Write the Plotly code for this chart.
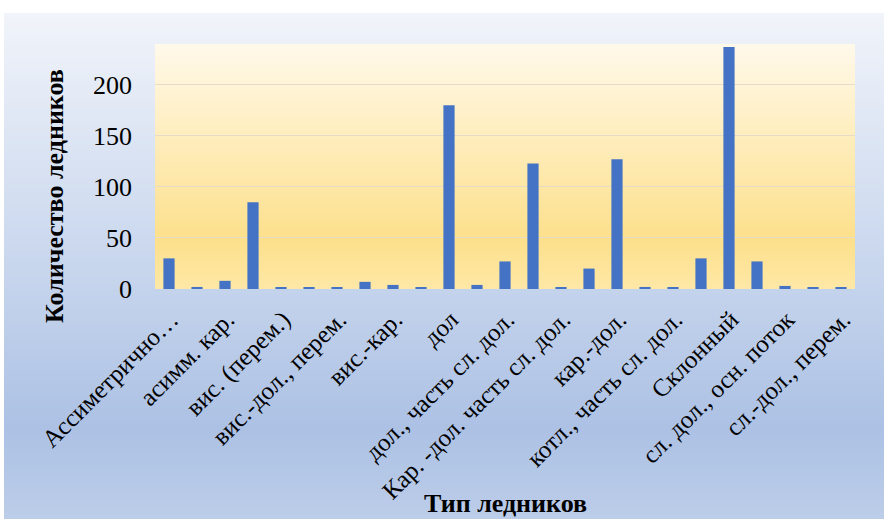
import plotly.graph_objects as go

# Glacier types (alphabetical, as exported) and number of glaciers of each type
categories = [
    "Ассиметрично…", "асимм. вис.", "асимм. кар.", "вис.", "вис. (перем.)",
    "вис.-дол.", "вис.-дол., перем.", "вис.-дол.-кар.", "вис.-кар.", "вис.-кар.-дол.",
    "дол", "дол.", "дол., часть сл. дол.", "кар.", "Кар. -дол. часть сл. дол.",
    "кар.-вис.", "кар.-дол.", "котл.", "котл., часть сл. дол.", "котл.-дол.",
    "Склонный", "сл. дол.", "сл. дол., осн. поток", "сл.-дол.", "сл.-дол., перем.",
]
counts = [
    30, 2, 8, 85, 1,
    1, 1, 7, 4, 1,
    180, 4, 27, 123, 1,
    20, 127, 2, 1, 30,
    237, 27, 3, 1, 1,
]
# every second category is labelled on the axis
tick_labels = categories[::2]

W, H = 884, 519
PL, PR, PT, PB = 155, 855, 44, 289  # plot area in pixels


def px_x(px):
    return (px - PL) / (PR - PL)


def px_y(py):
    return (PB - py) / (PB - PT)


def lerp_color(stops, t):
    for (t0, c0), (t1, c1) in zip(stops, stops[1:]):
        if t0 <= t <= t1:
            f = (t - t0) / (t1 - t0) if t1 > t0 else 0
            return "rgb({},{},{})".format(*[round(a + (b - a) * f) for a, b in zip(c0, c1)])
    return "rgb({},{},{})".format(*stops[-1][1])


def gradient_strips(x0, x1, y0, y1, stops, step=2):
    shapes = []
    py = y0
    while py < y1:
        t = (py + step / 2 - y0) / (y1 - y0)
        shapes.append(dict(
            type="rect", xref="paper", yref="paper", layer="below",
            x0=px_x(x0), x1=px_x(x1),
            y0=px_y(min(py + step + 0.6, y1)), y1=px_y(py),
            fillcolor=lerp_color(stops, min(t, 1)), line=dict(width=0),
        ))
        py += step
    return shapes


chart_bg = [(0.0, (241, 244, 250)), (0.55, (196, 211, 236)),
            (0.82, (172, 193, 228)), (1.0, (188, 205, 233))]
plot_bg = [(0.0, (255, 249, 234)), (0.8, (253, 224, 140)), (1.0, (254, 232, 166))]

shapes = gradient_strips(4, W, 13, H, chart_bg, step=3)
shapes += gradient_strips(PL, PR, PT, PB, plot_bg, step=2)

fig = go.Figure(go.Bar(
    x=categories, y=counts,
    marker=dict(color="#4472c4", line=dict(width=0)),
))

serif = "Liberation Serif"

fig.update_layout(
    width=W, height=H,
    margin=dict(l=PL, r=W - PR, t=PT, b=H - PB),
    paper_bgcolor="white",
    plot_bgcolor="rgba(0,0,0,0)",
    bargap=0.6,
    showlegend=False,
    shapes=shapes,
    font=dict(family=serif, color="black"),
    xaxis=dict(
        type="category",
        tickmode="array", tickvals=tick_labels, ticktext=tick_labels,
        tickangle=-45, tickfont=dict(size=25, family=serif, color="black"),
        showgrid=False, showline=False, ticks="",
        ticklabelstandoff=10, ticklabelshift=2,
    ),
    yaxis=dict(
        range=[0, 240], tickvals=[0, 50, 100, 150, 200],
        tickfont=dict(size=26, family=serif, color="black"),
        showgrid=True, gridcolor="#e5dcc8", gridwidth=1,
        zeroline=False, showline=False, ticks="",
        ticklabelstandoff=22,
    ),
    annotations=[
        dict(text="<b>Количество ледников</b>", xref="paper", yref="paper",
             x=px_x(54), y=px_y(196), textangle=-90, showarrow=False,
             font=dict(size=26, family=serif, color="black"),
             xanchor="center", yanchor="middle"),
        dict(text="<b>Тип ледников</b>", xref="paper", yref="paper",
             x=px_x(505), y=px_y(504), showarrow=False,
             font=dict(size=26, family=serif, color="black"),
             xanchor="center", yanchor="middle"),
    ],
)

fig.write_html("out.html")
